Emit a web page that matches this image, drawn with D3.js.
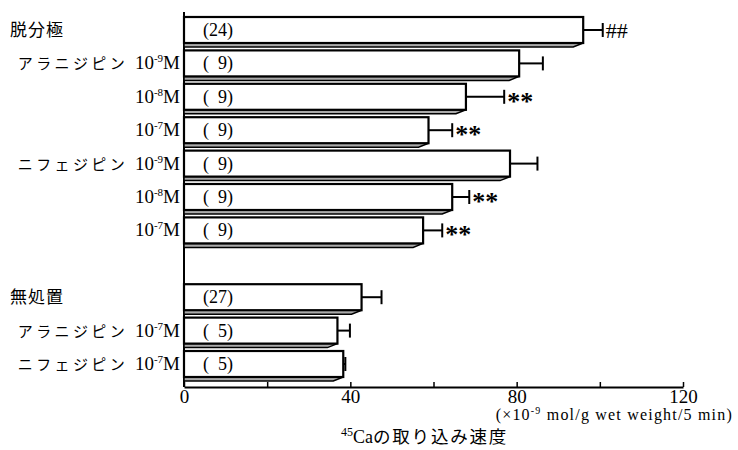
<!DOCTYPE html>
<html>
<head>
<meta charset="utf-8">
<script src="https://cdn.jsdelivr.net/npm/d3@7"></script>
<style>
  body { margin: 0; background: #fff; }
  svg { display: block; }
</style>
</head>
<body>
<div id="chart"></div>
<script>
var width = 738;
var height = 450;
var SERIF = '"Liberation Serif", "DejaVu Serif", serif';
var JP = '"Noto Sans CJK JP", sans-serif';

// rows, top to bottom ("" = empty slot between the two groups)
var slots = ["r1", "r2", "r3", "r4", "r5", "r6", "r7", "", "r8", "r9", "r10"];
var drugs = ["脱分極", "アラニジピン", "", "", "ニフェジピン", "", "", "無処置", "アラニジピン", "ニフェジピン"];
var concs = ["", "-9", "-8", "-7", "-9", "-8", "-7", "", "-7", "-7"];
var values = [96.0, 80.6, 67.8, 58.8, 78.4, 64.5, 57.5, 42.7, 36.9, 38.3];
var errors = [4.7, 5.7, 9.2, 5.7, 6.6, 4.1, 4.6, 4.8, 3.0, 0.5];
var counts = ["(24)", "(\u00a0\u00a09)", "(\u00a0\u00a09)", "(\u00a0\u00a09)", "(\u00a0\u00a09)", "(\u00a0\u00a09)",
              "(\u00a0\u00a09)", "(27)", "(\u00a0\u00a05)", "(\u00a0\u00a05)"];
var marks = ["##", "", "**", "**", "", "**", "**", "", "", ""];
var xTicks = [0, 20, 40, 60, 80, 100, 120];

var rows = slots.filter(function(s) { return s !== ""; }).map(function(key, i) {
    return { key: key, drug: drugs[i], conc: concs[i], value: values[i],
             err: errors[i], n: counts[i], mark: marks[i] };
});

var svg = d3.select("#chart")
            .append("svg")
            .attr("width", width)
            .attr("height", height);

var x = d3.scaleLinear()
    .domain([0, 120])
    .range([184, 683]);

var y = d3.scalePoint()
    .domain(slots)
    .range([30, 364]);

var barH = 26;
var shadowH = 4;

// x axis, ticks pointing up
var axisY = 387;
var xAxis = svg.append("g")
    .attr("transform", "translate(0," + axisY + ")")
    .call(d3.axisBottom(x)
        .tickValues(xTicks)
        .tickSizeInner(-5)
        .tickSizeOuter(0)
        .tickFormat(function(d) { return d % 40 === 0 ? d : ""; }));
xAxis.select(".domain").attr("stroke", "#000").attr("stroke-width", 2);
xAxis.selectAll(".tick line").attr("stroke", "#000").attr("stroke-width", 1.5);
xAxis.selectAll(".tick text")
    .attr("y", 16)
    .attr("dy", 0)
    .attr("fill", "#000")
    .style("font-family", SERIF)
    .style("font-size", "19px");

// y axis line
svg.append("line")
    .attr("x1", x(0)).attr("x2", x(0))
    .attr("y1", 12).attr("y2", axisY)
    .attr("stroke", "#000")
    .attr("stroke-width", 2);

var bar = svg.append("g").selectAll("g")
    .data(rows)
    .enter()
    .append("g");

// shadow under each bar
bar.append("path")
    .attr("d", function(d) {
        var x0 = x(0), x1 = x(d.value), yb = y(d.key) + barH / 2;
        return "M" + x0 + "," + yb + "L" + x1 + "," + yb +
               "L" + (x1 - 10) + "," + (yb + shadowH) + "L" + x0 + "," + (yb + shadowH) + "Z";
    })
    .attr("fill", "#aaa")
    .attr("stroke", "#000")
    .attr("stroke-width", 1.5);

bar.append("rect")
    .attr("x", x(0))
    .attr("y", function(d) { return y(d.key) - barH / 2; })
    .attr("width", function(d) { return x(d.value) - x(0); })
    .attr("height", barH)
    .attr("fill", "#fff")
    .attr("stroke", "#000")
    .attr("stroke-width", 2.2);

// error bars
bar.append("line")
    .attr("x1", function(d) { return x(d.value); })
    .attr("x2", function(d) { return x(d.value + d.err); })
    .attr("y1", function(d) { return y(d.key); })
    .attr("y2", function(d) { return y(d.key); })
    .attr("stroke", "#000")
    .attr("stroke-width", 2);

bar.append("line")
    .attr("x1", function(d) { return x(d.value + d.err); })
    .attr("x2", function(d) { return x(d.value + d.err); })
    .attr("y1", function(d) { return y(d.key) - 7; })
    .attr("y2", function(d) { return y(d.key) + 7; })
    .attr("stroke", "#000")
    .attr("stroke-width", 2);

// n counts inside bars
bar.append("text")
    .attr("x", x(0) + 19)
    .attr("y", function(d) { return y(d.key) + 6; })
    .style("font-family", SERIF)
    .style("font-size", "18px")
    .text(function(d) { return d.n; });

// significance marks
bar.filter(function(d) { return d.mark !== ""; })
    .append("text")
    .attr("x", function(d) { return x(d.value + d.err) + 3; })
    .attr("y", function(d) { return d.mark === "##" ? y(d.key) + 8 : y(d.key) + 13; })
    .style("font-family", SERIF)
    .style("font-size", function(d) { return d.mark === "##" ? "22px" : "26px"; })
    .style("font-weight", function(d) { return d.mark === "##" ? "normal" : "bold"; })
    .text(function(d) { return d.mark; });

// left labels
var lab = svg.append("g").selectAll("text")
    .data(rows)
    .enter()
    .append("text")
    .attr("y", function(d) { return y(d.key) + 6; })
    .attr("x", function(d) { return d.conc === "" ? 10 : 180; })
    .attr("text-anchor", function(d) { return d.conc === "" ? "start" : "end"; });

lab.filter(function(d) { return d.conc === ""; })
    .style("font-family", JP)
    .style("font-size", "17px")
    .style("letter-spacing", "1px")
    .text(function(d) { return d.drug; });

var conLab = lab.filter(function(d) { return d.conc !== ""; });
conLab.append("tspan")
    .style("font-family", JP)
    .style("font-size", "15px")
    .style("letter-spacing", "3.4px")
    .text(function(d) { return d.drug === "" ? "" : d.drug + " "; });
conLab.append("tspan")
    .style("font-family", SERIF)
    .style("font-size", "19px")
    .text("10");
conLab.append("tspan")
    .style("font-family", SERIF)
    .style("font-size", "11px")
    .attr("dy", -7)
    .text(function(d) { return d.conc; });
conLab.append("tspan")
    .style("font-family", SERIF)
    .style("font-size", "19px")
    .attr("dy", 7)
    .text("M");

// unit label
var unit = svg.append("text")
    .attr("x", 733)
    .attr("y", 420)
    .attr("text-anchor", "end")
    .style("font-family", SERIF)
    .style("font-size", "16px")
    .style("letter-spacing", "1.2px");
unit.append("tspan").text("(×10");
unit.append("tspan").style("font-size", "10px").attr("dy", -6).text("-9");
unit.append("tspan").attr("dy", 6).text(" mol/g wet weight/5 min)");

// axis title
var title = svg.append("text")
    .attr("x", 341)
    .attr("y", 443)
    .style("font-size", "18px");
title.append("tspan").style("font-family", SERIF).style("font-size", "12px").attr("dy", -7).text("45");
title.append("tspan").style("font-family", SERIF).attr("dy", 7).text("Ca");
title.append("tspan").style("font-family", JP).style("font-size", "17.5px").style("letter-spacing", "1.8px").text("の取り込み速度");
</script>
</body>
</html>
